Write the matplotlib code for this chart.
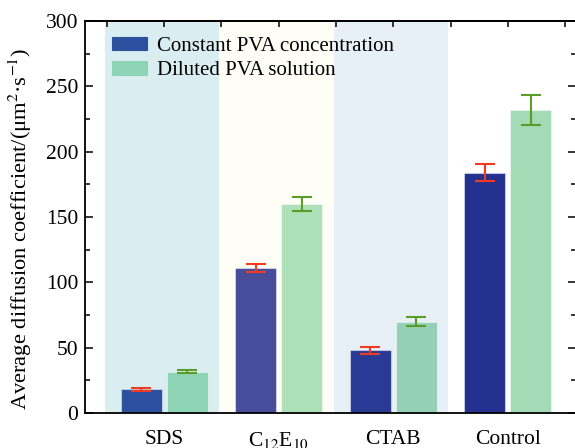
import matplotlib
matplotlib.use("Agg")
import matplotlib.pyplot as plt
from matplotlib.ticker import MultipleLocator
import numpy as np

plt.rcParams['font.family'] = ['Liberation Serif', 'DejaVu Serif']
plt.rcParams['mathtext.fontset'] = 'stix'

categories = ['SDS', 'C$_{12}$E$_{10}$', 'CTAB', 'Control']
constant_vals = [18, 111, 48, 184]
constant_err = [1.0, 3.0, 2.5, 6.5]
diluted_vals = [31.5, 160, 70, 232]
diluted_err = [1.2, 5.5, 3.3, 11.7]
series_names = ['Constant PVA concentration', 'Diluted PVA solution']

blue_colors = ['#2A509E', '#474D9A', '#283A96', '#25318F']
green_colors = ['#8ED5B5', '#AEE0B9', '#95D0B6', '#A2DBB5']
bg_colors = ['#DAEEF1', '#FFFEF6', '#E7EFF7', '#FFFFFF']

fig = plt.figure(figsize=(5.75, 4.48), dpi=100)
ax = fig.add_axes([85/575, (448-413)/448, 491/575, 392/448])

x = np.arange(1, len(categories) + 1)
for xi, c in zip(x, bg_colors):
    ax.axvspan(xi - 0.52, xi + 0.48, color=c, lw=0, zorder=0)

w = 0.36
off = 0.2
b1 = ax.bar(x - off, constant_vals, width=w, color=blue_colors,
            edgecolor=(1, 1, 1, 0.45), linewidth=0.8, zorder=2, label=series_names[0])
b2 = ax.bar(x + off, diluted_vals, width=w, color=green_colors,
            edgecolor=(1, 1, 1, 0.45), linewidth=0.8, zorder=2, label=series_names[1])
ax.errorbar(x - off, constant_vals, yerr=constant_err, fmt='none', ecolor='#F03A22',
            elinewidth=1.5, capsize=7.5, capthick=1.5, zorder=3)
ax.errorbar(x + off, diluted_vals, yerr=diluted_err, fmt='none', ecolor='#5A9E2A',
            elinewidth=1.5, capsize=7.5, capthick=1.5, zorder=3)

ax.set_xlim(0.308, 4.596)
ax.set_ylim(0, 300)
ax.set_xticks(x)
ax.set_xticklabels(categories, fontsize=15.5)
ax.tick_params(axis='x', which='both', bottom=False, top=False, pad=8.5)
ax.yaxis.set_major_locator(MultipleLocator(50))
ax.yaxis.set_minor_locator(MultipleLocator(25))
ax.tick_params(axis='y', which='major', direction='in', length=6, width=1.1,
               left=True, right=True, labelsize=15.5, pad=5)
ax.tick_params(axis='y', which='minor', direction='in', length=3.5, width=1.1,
               left=True, right=True)

top = ax.secondary_xaxis('top')
top.set_xticks(np.arange(0.5, 4.6, 0.5))
top.tick_params(direction='in', length=4.5, width=1.1, labeltop=False)
top.spines['top'].set_linewidth(1.3)

for s in ax.spines.values():
    s.set_linewidth(1.3)
    s.set_zorder(5)

ax.set_ylabel('Average diffusion coefficient/(μm$^{2}$·s$^{-1}$)', fontsize=16.2)
ax.yaxis.set_label_coords(-0.104, 0.469)

leg = ax.legend(handles=[b1, b2], loc='upper left', bbox_to_anchor=(0.055, 0.96),
                frameon=False, fontsize=15, borderpad=0, borderaxespad=0,
                handlelength=1.68, handleheight=0.63, handletextpad=0.48,
                labelspacing=0.25)
for h, col in zip(leg.legend_handles, ['#2A509E', '#8ED5B5']):
    h.set_facecolor(col)
    h.set_edgecolor(col)

fig.savefig('out.png', dpi=100)
